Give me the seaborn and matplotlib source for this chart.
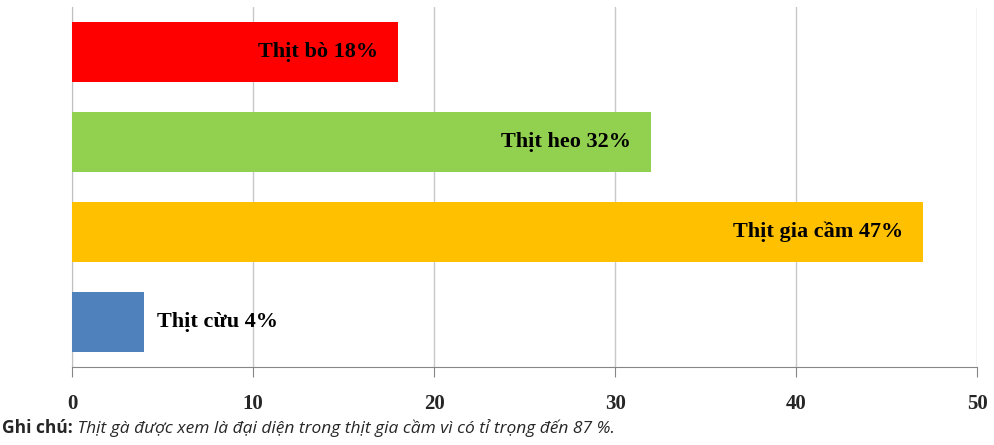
import matplotlib
matplotlib.use("Agg")
import matplotlib.pyplot as plt
import seaborn as sns
import pandas as pd

# data
categories = ["Thịt bò", "Thịt heo", "Thịt gia cầm", "Thịt cừu"]
shares = [18, 32, 47, 4]
colors = ["#FF0000", "#92D050", "#FFC000", "#4F81BD"]
x_ticks = [0, 10, 20, 30, 40, 50]
note_bold = "Ghi chú:"
note_text = " Thịt gà được xem là đại diện trong thịt gia cầm vì có tỉ trọng đến 87 %."

sns.set_style("white")
plt.rcParams["font.family"] = ["Liberation Serif", "DejaVu Serif"]

df = pd.DataFrame({"loai": categories, "ty_le": shares})

fig = plt.figure(figsize=(9.95, 4.45), dpi=100)
ax = fig.add_axes([0.0724, 0.175, 0.9096, 0.809])

sns.barplot(data=df, x="ty_le", y="loai", hue="loai", palette=colors,
            orient="h", width=0.667, legend=False, saturation=1, ax=ax,
            linewidth=0, zorder=3)

ax.set_xlim(0, 50)
ax.set_xticks(x_ticks)
ax.set_xticklabels([str(t) for t in x_ticks], fontsize=15, fontweight="bold")
ax.set_yticks([])
ax.set_xlabel("")
ax.set_ylabel("")
ax.grid(axis="x", color="#C8C8C8", linewidth=1, zorder=0)
ax.tick_params(axis="x", direction="out", length=7, color="#868686", pad=12, bottom=True)
for side in ["top", "right"]:
    ax.spines[side].set_visible(False)
ax.spines["bottom"].set_color("#868686")
ax.spines["left"].set_color("#BFBFBF")

for i, (name, val) in enumerate(zip(categories, shares)):
    label = f"{name} {val}%"
    if val > 10:
        ax.text(val - 1.1, i, label, ha="right", va="center", fontsize=16,
                fontweight="bold", color="black", zorder=4)
    else:
        ax.text(val + 0.7, i, label, ha="left", va="center", fontsize=16,
                fontweight="bold", color="black", zorder=4)

# footnote: bold lead-in followed by italic text
t1 = fig.text(0.002, 0.028, note_bold, fontsize=12.5, fontweight="bold",
              family=["Open Sans", "DejaVu Sans"], va="baseline")
fig.canvas.draw()
bb = t1.get_window_extent()
x2 = bb.x1 / fig.bbox.width
fig.text(x2, 0.028, note_text, fontsize=12.5, style="italic",
         family=["Open Sans", "DejaVu Sans"], va="baseline")

fig.savefig("out.png", dpi=100)
